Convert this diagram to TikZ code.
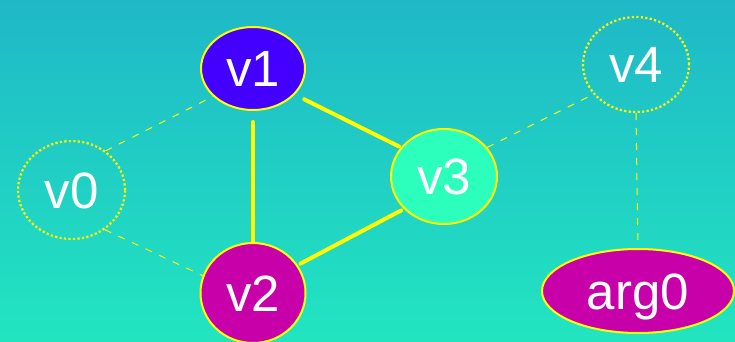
\documentclass[tikz,border=0pt]{standalone}
\usepackage{fontspec}
\setmainfont{Liberation Sans}
\usetikzlibrary{shapes.geometric}

\definecolor{bgtop}{RGB}{31,184,200}
\definecolor{bgbot}{RGB}{34,229,192}
\definecolor{vblue}{RGB}{68,0,255}
\definecolor{vmag}{RGB}{200,0,170}
\definecolor{vmint}{RGB}{43,255,187}
\definecolor{lineyel}{RGB}{255,255,0}

\pgfdeclarelayer{backdrop}
\pgfdeclarelayer{edges}
\pgfsetlayers{backdrop,edges,main}

\begin{document}
\begin{tikzpicture}[x=1pt,y=-1pt,
  vtx/.style={ellipse, inner sep=0pt, text=white,
    font=\fontsize{51}{51}\selectfont, text height=36pt, text depth=0pt,
    draw=lineyel, line width=2pt},
  ghost/.style={vtx, dash pattern=on 2.2pt off 2.3pt, line width=2.2pt},
  strong/.style={draw=lineyel, line width=4pt, line cap=round},
  weak/.style={draw=lineyel, line width=1pt, dash pattern=on 7pt off 8pt}]

  \useasboundingbox (0,0) rectangle (735,342);
  \begin{pgfonlayer}{backdrop}
    \shade[top color=bgtop, bottom color=bgbot] (0,0) rectangle (735,342);
  \end{pgfonlayer}

  % vertices
  \node[vtx, fill=vblue, minimum width=104pt, minimum height=83pt] (v1) at (253,68.5) {v1};
  \node[ghost, minimum width=107pt, minimum height=98pt] (v0) at (71.5,190) {v0};
  \node[vtx, fill=vmag, minimum width=105pt, minimum height=100pt] (v2) at (253,293) {v2};
  \node[vtx, fill=vmint, minimum width=106pt, minimum height=95pt] (v3) at (444,176.5) {v3};
  \node[ghost, minimum width=106pt, minimum height=95pt] (v4) at (636,64.5) {v4};
  \node[vtx, fill=vmag, minimum width=192pt, minimum height=84pt] (arg0) at (638,291) {arg0};

  % connections
  \begin{pgfonlayer}{edges}
    \draw[strong, shorten <=11pt] (v1.south) -- (v2.north);
    \draw[strong, shorten <=10.5pt, shorten >=2pt] (v1.-32) -- (v3.146);
    \draw[strong, shorten <=3pt, shorten >=3pt] (v2.32) -- (v3.219.5);
    \draw[weak] (v0.49) -- (v1.215);
    \draw[weak] (v0.-50) -- (v2.161);
    \draw[weak] (v3.34) -- (v4.215);
    \draw[weak] (v4.south) -- (arg0.north);
  \end{pgfonlayer}
\end{tikzpicture}
\end{document}
